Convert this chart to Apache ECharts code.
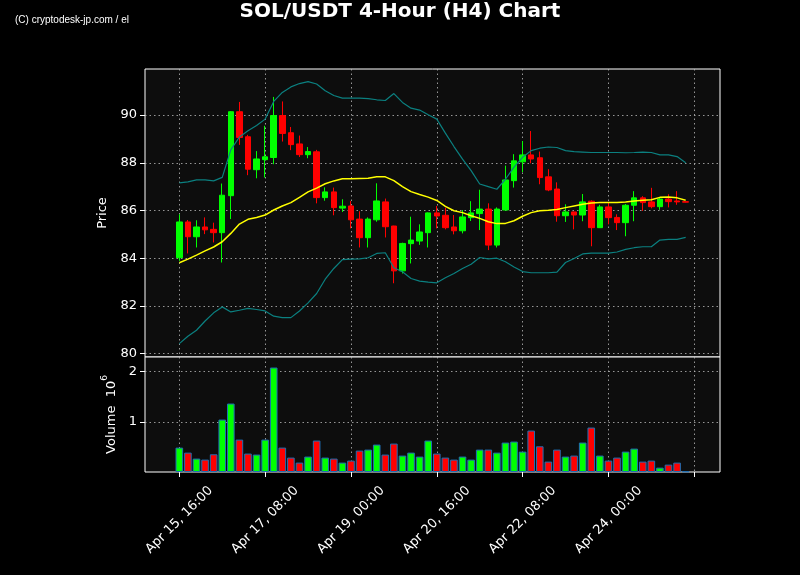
<!DOCTYPE html>
<html>
<head>
<meta charset="utf-8">
<script src="https://cdn.jsdelivr.net/npm/echarts@6/dist/echarts.min.js"></script>
<style>
html,body{margin:0;padding:0;background:#000;}
#c{width:800px;height:575px;}
</style>
</head>
<body>
<div id="c"></div>
<script>
// ---- data (candle 0 = Apr 15 16:00, 4-hour steps) ----
const opens  = [84.02,85.52,84.90,85.31,85.21,85.07,86.62,90.14,89.09,87.71,88.13,88.22,89.98,89.26,88.79,88.34,88.46,86.54,86.78,86.10,86.19,85.64,84.86,85.61,86.36,85.35,83.47,84.61,84.72,85.07,85.90,85.80,85.31,85.15,85.70,85.87,86.06,84.55,86.02,87.25,88.04,88.33,88.21,87.41,86.90,85.78,85.94,85.81,86.39,85.28,86.15,85.71,85.49,86.22,86.53,86.36,86.16,86.48,86.40,86.37];
const highs  = [85.84,85.60,85.59,85.71,85.49,87.13,90.16,90.55,89.17,88.49,89.55,90.76,90.57,89.50,89.14,88.66,88.54,86.97,86.96,86.47,86.40,85.97,85.71,87.14,86.50,85.36,84.65,85.74,85.42,85.92,86.19,86.12,85.81,86.02,86.39,86.87,86.30,86.13,87.88,88.36,88.91,89.33,88.47,87.73,87.18,86.26,85.95,86.69,86.43,86.24,86.36,85.84,86.27,86.81,86.60,86.95,86.55,86.68,86.81,86.38];
const lows   = [83.89,84.20,84.45,85.01,84.66,83.82,85.64,88.75,87.48,87.35,87.38,87.94,88.89,88.53,88.24,88.19,86.30,86.41,85.80,85.94,85.25,84.45,84.45,85.53,84.87,82.95,83.36,83.78,84.56,84.45,85.25,85.21,85.00,85.04,85.56,85.18,84.34,84.45,86.00,86.96,87.61,87.98,87.10,86.81,85.53,85.52,85.21,85.55,84.50,85.27,85.42,85.18,84.92,85.55,85.98,86.09,86.03,86.13,86.24,86.34];
const closes = [85.52,84.90,85.31,85.19,85.07,86.64,90.14,89.06,87.73,88.16,88.25,89.98,89.23,88.76,88.34,88.47,86.54,86.78,86.12,86.18,85.61,84.86,85.64,86.40,85.32,83.47,84.62,84.76,85.10,85.90,85.77,85.28,85.15,85.73,85.90,86.06,84.55,86.06,87.28,88.08,88.33,88.16,87.38,86.86,85.78,85.94,85.81,86.36,85.28,86.15,85.70,85.49,86.22,86.53,86.33,86.16,86.48,86.37,86.36,86.35];
const volumes = [486000,386000,267000,247000,353000,1044000,1363000,645000,367000,347000,645000,2080000,486000,287000,187000,307000,626000,287000,267000,187000,227000,426000,446000,546000,347000,566000,327000,386000,307000,626000,367000,287000,247000,307000,247000,446000,446000,386000,586000,606000,406000,825000,512000,207000,446000,307000,327000,586000,885000,327000,227000,287000,406000,466000,207000,227000,87000,147000,187000,13000];
const sma20 = [83.81,83.96,84.13,84.31,84.47,84.69,85.04,85.43,85.63,85.71,85.81,86.02,86.19,86.33,86.55,86.78,86.94,87.12,87.24,87.33,87.33,87.34,87.35,87.41,87.41,87.25,87.00,86.79,86.67,86.56,86.42,86.17,85.99,85.91,85.78,85.67,85.53,85.45,85.46,85.57,85.76,85.91,85.99,86.01,86.04,86.12,86.19,86.26,86.31,86.33,86.33,86.33,86.36,86.40,86.43,86.45,86.55,86.57,86.53,86.43];
const bbUpper = [87.16,87.20,87.28,87.28,87.24,87.39,88.54,89.08,89.34,89.56,89.83,90.57,90.95,91.18,91.32,91.40,91.30,91.02,90.82,90.71,90.71,90.71,90.69,90.64,90.61,90.90,90.53,90.29,90.21,90.01,89.83,89.24,88.68,88.15,87.67,87.11,87.00,86.89,87.31,87.82,88.23,88.51,88.61,88.66,88.64,88.51,88.47,88.45,88.43,88.43,88.43,88.43,88.42,88.43,88.45,88.43,88.33,88.33,88.26,88.00];
const bbLower = [80.42,80.73,80.98,81.37,81.71,81.96,81.75,81.82,81.90,81.85,81.79,81.57,81.51,81.51,81.79,82.13,82.52,83.12,83.57,83.94,83.96,83.97,84.02,84.20,84.23,83.60,83.43,83.15,83.04,83.00,82.97,83.18,83.36,83.57,83.75,84.03,83.97,84.00,83.85,83.63,83.44,83.39,83.39,83.39,83.42,83.82,83.99,84.18,84.21,84.21,84.21,84.26,84.37,84.44,84.48,84.48,84.76,84.79,84.79,84.87];
const xTickLabels = ['Apr 15, 16:00','Apr 17, 08:00','Apr 19, 00:00','Apr 20, 16:00','Apr 22, 08:00','Apr 24, 00:00'];
const priceTicks = [80,82,84,86,88,90];
const volumeTicks = [1000000,2000000];

// ---- build ----
const PAD = 4;             // empty slots before first candle
const NCAT = 68;           // total axis slots
const cats = [];
for (let i = 0; i < NCAT; i++) cats.push(String(i - PAD));
const isTick = i => (i - PAD) >= 0 && (i - PAD) % 10 === 0;
const isLabel = i => isTick(i) && (i - PAD) / 10 < xTickLabels.length;

const candleData = opens.map((o, i) => [i + PAD, o, closes[i], lows[i], highs[i]]);
const lineData = arr => arr.map((v, i) => [i + PAD, v]);
const volData = volumes.map((v, i) => ({
  value: [i + PAD, v],
  itemStyle: { color: closes[i] >= opens[i] ? '#00ff00' : '#ff0000' }
}));

const GRIDC = 'rgba(185,185,185,0.8)';
const splitX = { show: true, interval: (i) => isTick(i), lineStyle: { color: GRIDC, type: [1.5, 3], width: 1 } };
const splitY = { show: true, lineStyle: { color: GRIDC, type: [1.5, 3], width: 1 } };
const FONT = 'DejaVu Sans';

const chart = echarts.init(document.getElementById('c'), null, { renderer: 'canvas' });
chart.setOption({
  backgroundColor: '#000',
  animation: false,
  title: [
    { text: 'SOL/USDT 4-Hour (H4) Chart', left: 'center', top: -3,
      textStyle: { color: '#fff', fontFamily: FONT, fontWeight: 'bold', fontSize: 20 } },
    { text: '(C) cryptodesk-jp.com / el', left: 10, top: 10,
      textStyle: { color: '#fff', fontFamily: 'Liberation Sans Narrow, Liberation Sans', fontWeight: 'normal', fontSize: 10 } }
  ],
  grid: [
    { left: 145, right: 80, top: 69, height: 288, show: true, backgroundColor: '#0d0d0d', borderColor: '#fff', borderWidth: 1 },
    { left: 145, right: 80, top: 357, height: 115, show: true, backgroundColor: '#0d0d0d', borderColor: '#fff', borderWidth: 1 }
  ],
  xAxis: [
    { type: 'category', gridIndex: 0, data: cats, boundaryGap: false,
      axisLine: { show: false }, axisTick: { show: false }, axisLabel: { show: false }, splitLine: splitX },
    { type: 'category', gridIndex: 1, data: cats, boundaryGap: false,
      axisLine: { show: false },
      axisTick: { show: true, interval: (i) => isTick(i), length: 5, lineStyle: { color: '#fff' } },
      axisLabel: { show: true, interval: (i) => isLabel(i), rotate: 45, align: 'center', verticalAlign: 'middle', margin: 48,
        color: '#fff', fontFamily: FONT, fontSize: 13,
        formatter: (v) => { const k = Number(v); return (k % 10 === 0 && k / 10 < xTickLabels.length) ? xTickLabels[k / 10] : ''; } },
      splitLine: splitX }
  ],
  yAxis: [
    { type: 'value', gridIndex: 0, min: 79.86, max: 91.93,
      axisLine: { show: false },
      axisTick: { show: true, customValues: priceTicks, length: 5, lineStyle: { color: '#fff' } },
      axisLabel: { customValues: priceTicks, color: '#fff', fontFamily: FONT, fontSize: 13, margin: 8 },
      splitLine: splitY,
      name: 'Price', nameLocation: 'middle', nameGap: 34, nameRotate: 90,
      nameTextStyle: { color: '#fff', fontFamily: FONT, fontSize: 13 } },
    { type: 'value', gridIndex: 1, min: 0, max: 2290000,
      axisLine: { show: false },
      axisTick: { show: true, customValues: volumeTicks, length: 5, lineStyle: { color: '#fff' } },
      axisLabel: { customValues: volumeTicks, color: '#fff', fontFamily: FONT, fontSize: 13, margin: 8,
        formatter: (v) => String(Math.round(v / 1e6)) },
      splitLine: splitY,
      name: '{a|Volume  10}{b|6}', nameLocation: 'middle', nameGap: 27, nameRotate: 90,
      nameTextStyle: { color: '#fff', fontFamily: FONT, fontSize: 13,
        rich: { a: { color: '#fff', fontFamily: FONT, fontSize: 13, lineHeight: 18, verticalAlign: 'bottom' },
                b: { color: '#fff', fontFamily: FONT, fontSize: 9, lineHeight: 18, verticalAlign: 'top' } } } }
  ],
  series: [
    { type: 'candlestick', xAxisIndex: 0, yAxisIndex: 0, data: candleData, encode: { x: 0, y: [1, 2, 3, 4] },
      barWidth: 6,
      itemStyle: { color: '#00ff00', color0: '#ff0000', borderColor: '#00ff00', borderColor0: '#ff0000', borderWidth: 1 } },
    { type: 'line', xAxisIndex: 0, yAxisIndex: 0, data: lineData(bbUpper), showSymbol: false, symbol: 'none',
      lineStyle: { color: '#0b8080', width: 1.2 }, z: 3 },
    { type: 'line', xAxisIndex: 0, yAxisIndex: 0, data: lineData(bbLower), showSymbol: false, symbol: 'none',
      lineStyle: { color: '#0b8080', width: 1.2 }, z: 3 },
    { type: 'line', xAxisIndex: 0, yAxisIndex: 0, data: lineData(sma20), showSymbol: false, symbol: 'none',
      lineStyle: { color: '#ffff00', width: 1.5 }, z: 4 },
    { type: 'bar', xAxisIndex: 1, yAxisIndex: 1, data: volData, barWidth: 7.6,
      itemStyle: { borderColor: '#1f6fb4', borderWidth: 1 } }
  ]
});
</script>
</body>
</html>
